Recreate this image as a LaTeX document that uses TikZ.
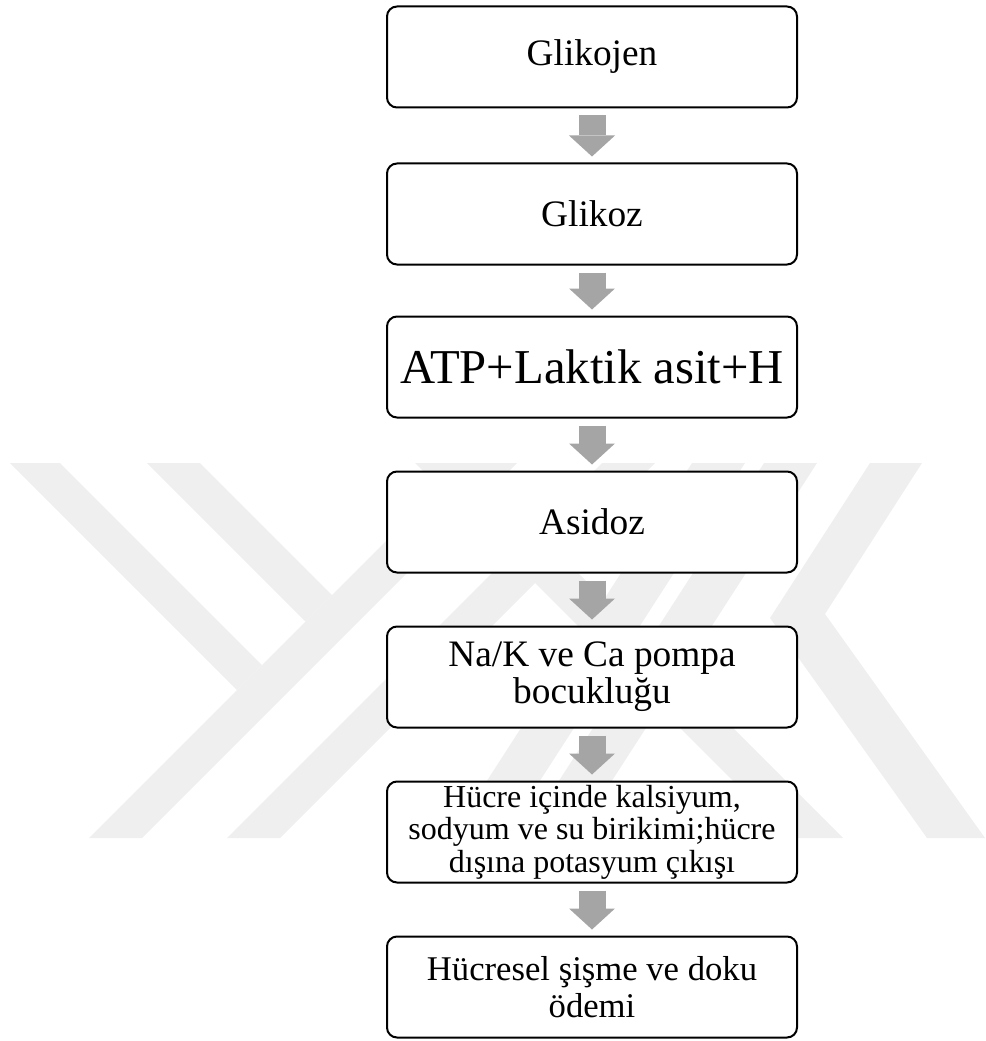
\documentclass[tikz,border=0pt]{standalone}
\usepackage[rgb]{xcolor}
\usepackage{fontspec}
\setmainfont{Liberation Serif}
\usepackage{tikz}
\usetikzlibrary{arrows.meta}
\definecolor{wm_gray}{HTML}{EFEFEF}
\definecolor{arr_gray}{HTML}{A5A5A5}

\begin{document}
\begin{tikzpicture}[x=0.75pt, y=-0.75pt,
        box/.style={draw=black, line width=1.5pt, fill=white, rounded corners=7.5pt,
            minimum width=307.5pt, minimum height=75.75pt, inner sep=0pt, align=center,
            font=\fontsize{28pt}{27.75pt}\selectfont},
        smallbox/.style={box, font=\fontsize{24pt}{24.4pt}\selectfont},
        bigbox/.style={box, font=\fontsize{36.5pt}{36pt}\selectfont},
        lastbox/.style={box, font=\fontsize{26pt}{27.5pt}\selectfont},
        blockarrow/.style={draw=arr_gray, line width=20.25pt,
            -{Triangle[width=34.5pt, length=15.75pt, line width=0pt]},
            shorten <=5.25pt, shorten >=4.5pt}]
            \useasboundingbox (0, 0) rectangle (985, 1041);

            % watermark
            \fill [wm_gray] (10, 463) -- (60, 463) -- (262, 665) -- (237, 690) -- cycle;
            \fill [wm_gray] (147, 463) -- (200, 463) -- (332, 595) -- (305.5, 621.5) -- cycle;
            \fill [wm_gray] (89, 838) -- (142, 838) -- (517, 463) -- (464, 463) -- cycle;
            \fill [wm_gray] (227, 838) -- (280, 838) -- (655, 463) -- (602, 463) -- cycle;
            \fill [wm_gray] (870, 463) -- (922, 463) -- (825, 614) -- (985, 838) -- (927, 838) -- (770, 618) -- cycle;
            \fill [wm_gray] (692, 463) -- (745, 463) -- (503, 838) -- (450, 838) -- cycle;
            \fill [wm_gray] (764, 463) -- (817, 463) -- (575, 838) -- (522, 838) -- cycle;
            \fill [wm_gray] (790, 838) -- (843, 838) -- (468, 463) -- (415, 463) -- cycle;

            \node[box] (b1) at (592, 57) {Glikojen};
            \node[box] (b2) at (592, 214) {Glikoz};
            \node[bigbox] (b3) at (592, 367) {ATP+Laktik asit+H};
            \node[box] (b4) at (592, 522) {Asidoz};
            \node[box] (b5) at (592, 677) {Na/K ve Ca pompa\\bocukluğu};
            \node[smallbox] (b6) at (592, 832) {Hücre içinde kalsiyum,\\sodyum ve su birikimi;hücre\\dışına potasyum çıkışı};
            \node[lastbox] (b7) at (592, 987) {Hücresel şişme ve doku\\ödemi};

            \foreach \a/\b in {b1/b2, b2/b3, b3/b4, b4/b5, b5/b6, b6/b7}
                \draw[blockarrow] (\a.south) -- (\b.north);

\end{tikzpicture}
\end{document}
